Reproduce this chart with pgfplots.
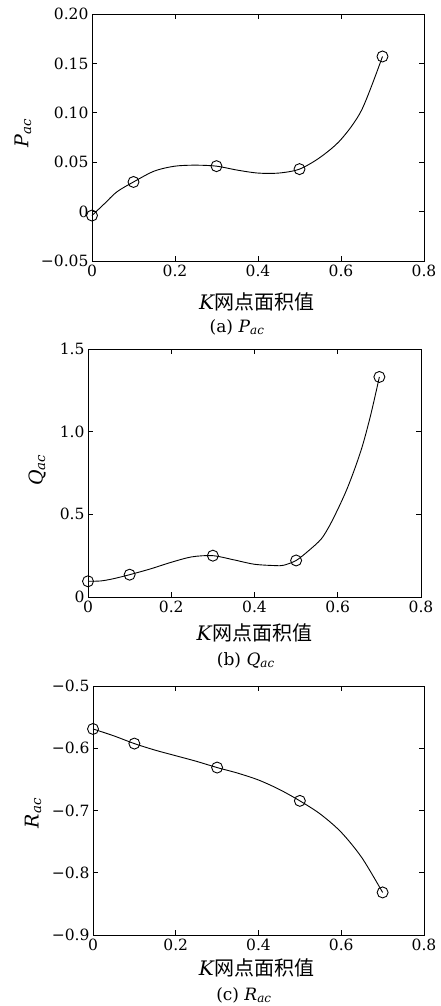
\documentclass[border=0pt]{standalone}
\usepackage{fontspec}
\setmainfont{DejaVu Serif}
\newfontfamily\cjk{Noto Sans CJK SC}
\usepackage{pgfplots}
\pgfplotsset{compat=1.18}
\newcommand{\vv}[2]{\textit{#1}\textsubscript{\textit{#2}}}
\pgfplotsset{mystyle/.style={
  scale only axis, clip=false,
  xmin=0, xmax=0.8,
  xtick={0,0.2,0.4,0.6,0.8}, xticklabels={0,0.2,0.4,0.6,0.8},
  xtick pos=both, ytick pos=both, tick align=inside,
  major tick length=5pt,
  tick label style={font=\fontsize{15.5}{16}\selectfont},
  every tick/.style={black, line width=0.7pt},
  axis line style={line width=0.9pt},
  xlabel style={anchor=center, font=\fontsize{20}{20}\selectfont},
  ylabel style={anchor=center, font=\fontsize{19}{19}\selectfont},
  xlabel={\textit{K}{\cjk 网点面积值}},
}}
\begin{document}
\begin{tikzpicture}
\useasboundingbox (0pt,0pt) rectangle (441pt,-1006pt);
% (a)
\begin{axis}[mystyle, at={(92pt,-261pt)}, anchor=south west,
  width=332pt, height=247pt,
  ymin=-0.05, ymax=0.20,
  ytick={-0.05,0,0.05,0.10,0.15,0.20},
  yticklabels={−0.05,0,0.05,0.10,0.15,0.20},
  xlabel style={at={(axis description cs:0.497,-0.166)}},
  ylabel style={at={(axis description cs:-0.208,0.518)}},
  ylabel={\vv{P}{ac}}]
\addplot[black, line width=0.9pt, smooth, no marks] coordinates {
(0,-0.004) (0.03,0.008) (0.06,0.020) (0.1,0.030) (0.15,0.041) (0.2,0.046)
(0.25,0.047) (0.3,0.046) (0.35,0.042) (0.4,0.039) (0.45,0.039) (0.5,0.043)
(0.55,0.055) (0.6,0.073) (0.65,0.103) (0.7,0.157)};
\addplot[black, line width=0.9pt, only marks, mark=o, mark size=5.5pt] coordinates {
(0,-0.004) (0.1,0.030) (0.3,0.046) (0.5,0.043) (0.7,0.157)};
\node[font=\fontsize{17}{17}\selectfont] at (rel axis cs:0.437,-0.267) {(a) \vv{P}{ac}};
\end{axis}
% (b)
\begin{axis}[mystyle, at={(88pt,-597pt)}, anchor=south west,
  width=333pt, height=248pt,
  ymin=0, ymax=1.5,
  ytick={0,0.5,1.0,1.5},
  yticklabels={0,0.5,1.0,1.5},
  xlabel style={at={(axis description cs:0.50,-0.145)}},
  ylabel style={at={(axis description cs:-0.153,0.512)}},
  ylabel={\vv{Q}{ac}}]
\addplot[black, line width=0.9pt, smooth, no marks] coordinates {
(0,0.095) (0.03,0.097) (0.06,0.11) (0.1,0.135) (0.15,0.17) (0.2,0.21)
(0.25,0.243) (0.3,0.25) (0.35,0.225) (0.4,0.198) (0.45,0.19) (0.47,0.192)
(0.5,0.221) (0.53,0.28) (0.56,0.35) (0.58,0.43) (0.6,0.53) (0.62,0.64)
(0.64,0.77) (0.66,0.92) (0.68,1.11) (0.7,1.331)};
\addplot[black, line width=0.9pt, only marks, mark=o, mark size=5.5pt] coordinates {
(0,0.095) (0.1,0.135) (0.3,0.25) (0.5,0.221) (0.7,1.331)};
\node[font=\fontsize{17}{17}\selectfont] at (rel axis cs:0.474,-0.254) {(b) \vv{Q}{ac}};
\end{axis}
% (c)
\begin{axis}[mystyle, at={(93pt,-935pt)}, anchor=south west,
  width=331pt, height=249pt,
  ymin=-0.9, ymax=-0.5,
  ytick={-0.9,-0.8,-0.7,-0.6,-0.5},
  yticklabels={−0.9,−0.8,−0.7,−0.6,−0.5},
  xlabel style={at={(axis description cs:0.495,-0.133)}},
  ylabel style={at={(axis description cs:-0.181,0.49)}},
  ylabel={\vv{R}{ac}}]
\addplot[black, line width=0.9pt, smooth, no marks] coordinates {
(0,-0.569) (0.05,-0.580) (0.1,-0.5925) (0.15,-0.603) (0.2,-0.612) (0.25,-0.621)
(0.3,-0.631) (0.35,-0.640) (0.4,-0.651) (0.45,-0.666) (0.5,-0.6845) (0.55,-0.706)
(0.6,-0.735) (0.65,-0.776) (0.7,-0.8316)};
\addplot[black, line width=0.9pt, only marks, mark=o, mark size=5.5pt] coordinates {
(0,-0.569) (0.1,-0.5925) (0.3,-0.631) (0.5,-0.6845) (0.7,-0.8316)};
\node[font=\fontsize{17}{17}\selectfont] at (rel axis cs:0.456,-0.241) {(c) \vv{R}{ac}};
\end{axis}
\end{tikzpicture}
\end{document}
